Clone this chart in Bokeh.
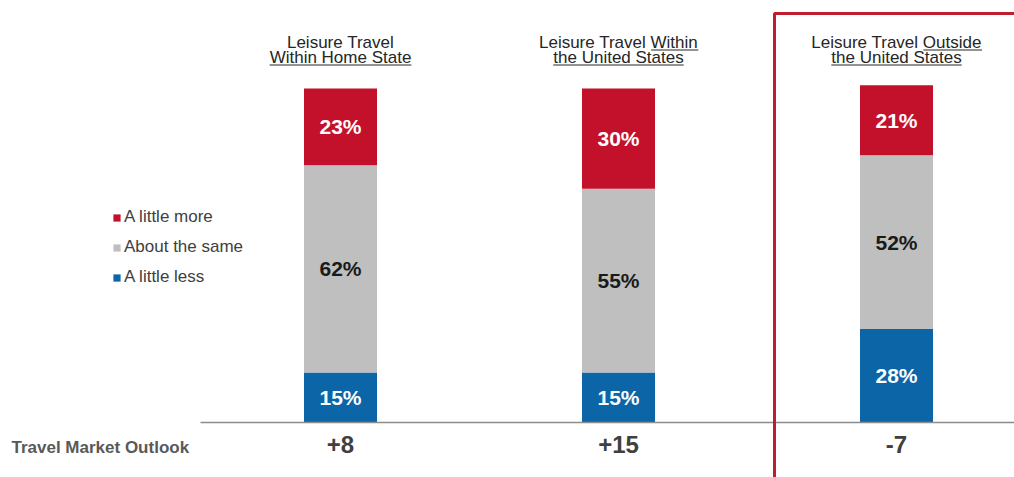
import numpy as np
from bokeh.plotting import figure
from bokeh.models import Range1d, ColumnDataSource, Legend, LegendItem, BoxAnnotation
from bokeh.core.properties import value
from bokeh.embed import file_html
from bokeh.resources import INLINE

# ---------------- data ----------------
categories = ["Within Home State", "Within the United States", "Outside the United States"]
title_line1 = ["Leisure Travel", "Leisure Travel Within", "Leisure Travel Outside"]
title_line2 = ["Within Home State", "the United States", "the United States"]
underlined_line1 = ["", "Within", "Outside"]
series_names = ["A little less", "About the same", "A little more"]
a_little_less = [15, 15, 28]
about_the_same = [62, 55, 52]
a_little_more = [23, 30, 21]
outlook = [8, 15, -7]
outlook_title = "Travel Market Outlook"

# ---------------- layout ----------------
W, H = 1014, 477
X0_PX, DX_PX = 340, 278          # pixel centre of first bar, spacing between bars
Y0_PX, PX_PER_PCT = 422, 3.34    # pixel row of 0 %, pixels per percentage point
BAR_PX = 73

RED, GRAY, BLUE = "#C3112B", "#BFBFBF", "#0B65A6"
FONT_NAME = "Liberation Sans"
FONT = value(FONT_NAME)


def px2x(px):
    return (px - X0_PX) / DX_PX


def py2y(py):
    return (Y0_PX - py) / PX_PER_PCT


# Arial / Liberation Sans advance widths (per 1000 em) for underline lengths
AW = {'L': 556, 'e': 556, 'i': 222, 's': 500, 'u': 556, 'r': 333, ' ': 278, 'T': 611,
      'a': 556, 'v': 500, 'l': 222, 'W': 944, 't': 278, 'h': 556, 'n': 556, 'H': 722,
      'o': 556, 'm': 833, 'S': 667, 'U': 722, 'd': 556, 'O': 778}


def tw(s, size):
    return sum(AW.get(c, 556) for c in s) / 1000.0 * size


x = np.arange(len(categories))
less = np.array(a_little_less)
same = np.array(about_the_same)
more = np.array(a_little_more)

source = ColumnDataSource(dict(x=x, less=less, same=same, more=more))

p = figure(width=W, height=H,
           x_range=Range1d(px2x(0), px2x(W)), y_range=Range1d(py2y(H), py2y(0)),
           output_backend="svg", toolbar_location=None,
           x_axis_location=None, y_axis_location=None,
           min_border=0, outline_line_color=None)
p.grid.visible = False
p.background_fill_color = "white"

renderers = p.vbar_stack(["less", "same", "more"], x="x", width=BAR_PX / DX_PX,
                         color=[BLUE, GRAY, RED], line_color=None, source=source)

# baseline
p.segment(x0=[px2x(200)], y0=[0], x1=[px2x(W)], y1=[0], line_color="#8C8C8C", line_width=1.5)

# segment labels
lab_kw = dict(text_align="center", text_baseline="middle", text_font=FONT,
              text_font_size="21px", text_font_style="bold")
p.text(x=x, y=less / 2, text=[f"{v}%" for v in less], text_color="white", **lab_kw)
p.text(x=x, y=less + same / 2, text=[f"{v}%" for v in same], text_color="#1A1A1A", **lab_kw)
p.text(x=x, y=less + same + more / 2, text=[f"{v}%" for v in more], text_color="white", **lab_kw)

# column titles
TSIZE = 17
title_kw = dict(text_align="center", text_baseline="middle", text_font=FONT,
                text_font_size=f"{TSIZE}px", text_color="#262626")
p.text(x=x, y=[py2y(41.5)] * len(x), text=title_line1, **title_kw)
p.text(x=x, y=[py2y(56.5)] * len(x), text=title_line2, **title_kw)

ux0, ux1, uy = [], [], []
for i in range(len(categories)):
    cx = X0_PX + i * DX_PX
    w2 = tw(title_line2[i], TSIZE)
    ux0.append(px2x(cx - w2 / 2)); ux1.append(px2x(cx + w2 / 2)); uy.append(py2y(64.5))
    if underlined_line1[i]:
        w1 = tw(title_line1[i], TSIZE)
        end = cx + w1 / 2
        ux0.append(px2x(end - tw(underlined_line1[i], TSIZE))); ux1.append(px2x(end)); uy.append(py2y(49.5))
p.segment(x0=ux0, y0=uy, x1=ux1, y1=uy, line_color="#262626", line_width=1)

# outlook row
p.text(x=x, y=[py2y(444)] * len(x), text=[f"{v:+d}" for v in outlook],
       text_align="center", text_baseline="middle", text_font=FONT,
       text_font_size="24px", text_font_style="bold", text_color="#404040")
p.text(x=[px2x(11)], y=[py2y(447)], text=[outlook_title],
       text_align="left", text_baseline="middle", text_font=FONT,
       text_font_size="17px", text_font_style="bold", text_color="#595959")

# highlight box
p.add_layout(BoxAnnotation(left=px2x(774), right=px2x(W + 30), top=py2y(13), bottom=py2y(H + 30),
                           fill_alpha=0, line_color="#BE1E2D", line_alpha=1.0, line_width=3))

# legend
items = [LegendItem(label=series_names[2], renderers=[renderers[2]]),
         LegendItem(label=series_names[1], renderers=[renderers[1]]),
         LegendItem(label=series_names[0], renderers=[renderers[0]])]
legend = Legend(items=items, location=(112, 190), orientation="vertical",
                glyph_width=9, glyph_height=9, label_standoff=3,
                label_text_font=FONT_NAME, label_text_font_size="17px", label_text_color="#404040",
                label_height=20, spacing=10, padding=0, margin=0,
                border_line_color=None, background_fill_alpha=0)
p.add_layout(legend)

open("out.html", "w").write(file_html(p, INLINE))
